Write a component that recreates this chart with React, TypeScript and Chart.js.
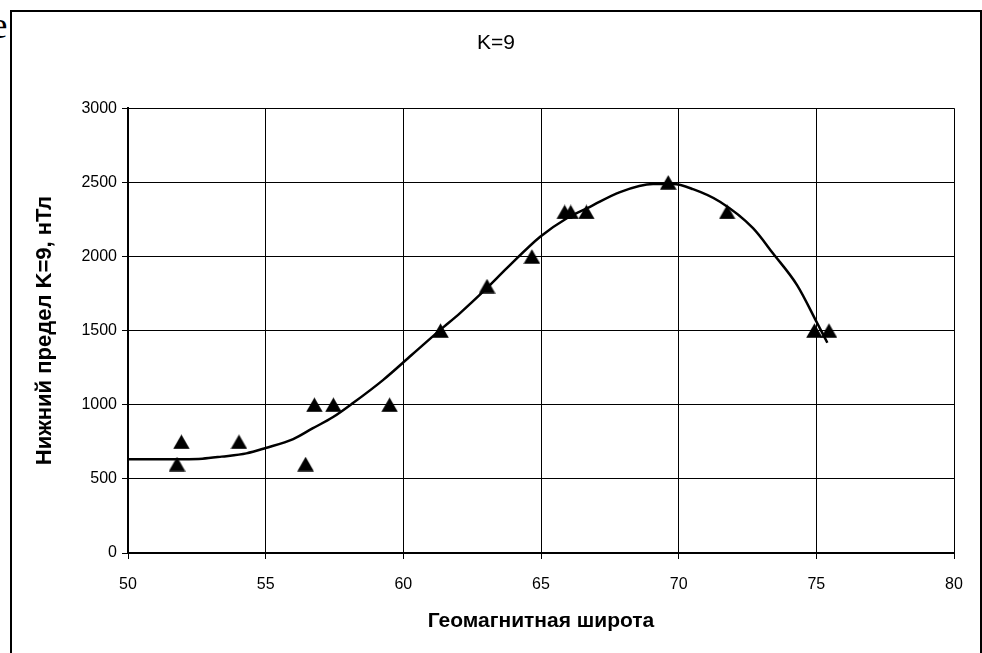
import React, { useEffect, useRef } from "react";
import { Chart, registerables } from "chart.js";

Chart.register(...registerables);

const chartTitle = "K=9";
const xTitle = "Геомагнитная широта";
const yTitle = "Нижний предел K=9, нТл";

const pointLat = [51.78, 51.94, 54.03, 56.45, 56.77, 57.46, 59.5, 61.35, 63.04, 64.67, 65.86, 66.08, 66.65, 69.62, 71.76, 74.93, 75.46];
const pointLimit = [600, 750, 750, 600, 1000, 1000, 1000, 1500, 1800, 2000, 2300, 2300, 2300, 2500, 2300, 1500, 1500];

const curveLat = [50, 51, 52, 52.7, 53.4, 54.3, 55, 56, 56.7, 57.45, 58.17, 59.26, 60.3, 61.33, 62.06, 63.03, 63.76, 64.97, 65.94, 66.78, 67.87, 69.07, 69.8, 70.52, 71.5, 72.7, 73.43, 74.3, 75.03, 75.4];
const curveLimit = [633, 633, 633, 636, 650, 672, 708, 768, 840, 917, 1011, 1166, 1335, 1503, 1618, 1786, 1921, 2133, 2258, 2335, 2434, 2488, 2488, 2454, 2369, 2191, 2020, 1807, 1551, 1418];

const xMin = 50, xMax = 80, xStep = 5;
const yMin = 0, yMax = 3000, yStep = 500;

const FONT = "'Liberation Sans', Arial, sans-serif";

function makeTriangle(): HTMLCanvasElement {
  const c = document.createElement("canvas");
  c.width = 17;
  c.height = 15;
  const ctx = c.getContext("2d")!;
  ctx.fillStyle = "#000";
  ctx.beginPath();
  ctx.moveTo(8.5, 0.3);
  ctx.lineTo(16.8, 14.7);
  ctx.lineTo(0.2, 14.7);
  ctx.closePath();
  ctx.fill();
  return c;
}

export default function App() {
  const ref = useRef<HTMLCanvasElement | null>(null);

  useEffect(() => {
    if (!ref.current) return;
    const tri = makeTriangle();
    const chart = new Chart(ref.current, {
      type: "scatter",
      data: {
        datasets: [
          {
            label: "points",
            data: pointLat.map((x, i) => ({ x, y: pointLimit[i] })),
            pointStyle: tri as any,
            pointRadius: 8,
            pointBackgroundColor: "#000",
            pointBorderColor: "#000",
            showLine: false,
          },
          {
            label: "curve",
            data: curveLat.map((x, i) => ({ x, y: curveLimit[i] })),
            showLine: true,
            pointRadius: 0,
            borderColor: "#000",
            borderWidth: 2.5,
            cubicInterpolationMode: "monotone",
            fill: false,
          },
        ],
      },
      options: {
        responsive: false,
        animation: false,
        layout: { padding: { left: 38, right: 28, top: 0, bottom: 0 } },
        plugins: {
          legend: { display: false },
          tooltip: { enabled: false },
          title: {
            display: true,
            text: chartTitle,
            color: "#000",
            font: { family: FONT, size: 21, weight: "normal" },
            padding: { top: 31, bottom: 52 },
          },
        },
        scales: {
          x: {
            type: "linear",
            min: xMin,
            max: xMax,
            ticks: {
              stepSize: xStep,
              color: "#000",
              font: { family: FONT, size: 16 },
              padding: 16,
              maxRotation: 0,
              callback: (v: any) => String(v),
            },
            grid: { color: "#000", lineWidth: 1, tickLength: 6, tickColor: "#000" },
            border: { display: true, color: "#000", width: 2 },
            title: {
              display: true,
              text: xTitle,
              color: "#000",
              font: { family: FONT, size: 21, weight: "bold" },
              padding: { top: 0, bottom: 19 },
            },
            afterFit: (s: any) => { s.height = 100; },
          },
          y: {
            type: "linear",
            min: yMin,
            max: yMax,
            ticks: {
              stepSize: yStep,
              color: "#000",
              font: { family: FONT, size: 16 },
              padding: 5,
              callback: (v: any) => String(v),
            },
            grid: { color: "#000", lineWidth: 1, tickLength: 6, tickColor: "#000" },
            border: { display: true, color: "#000", width: 2 },
            title: {
              display: true,
              text: yTitle,
              color: "#000",
              font: { family: FONT, size: 22, weight: "bold" },
              padding: { top: -6, bottom: 0 },
            },
            afterFit: (s: any) => { s.width = 90; },
          },
        },
      },
    });
    return () => chart.destroy();
  }, []);

  return (
    <div style={{ position: "fixed", left: 0, top: 0, width: 982, height: 653, overflow: "hidden", background: "#fff" }}>
      <span style={{ position: "absolute", left: -9, top: 4, fontFamily: "'Liberation Serif', 'Times New Roman', serif", fontSize: 37, color: "#000", lineHeight: "normal" }}>e</span>
      <div style={{ position: "absolute", left: 10, top: 10, width: 972, height: 700, border: "2px solid #000", boxSizing: "border-box" }} />
      <canvas ref={ref} width={982} height={653} style={{ position: "absolute", left: 0, top: 0, width: 982, height: 653 }} />
    </div>
  );
}
